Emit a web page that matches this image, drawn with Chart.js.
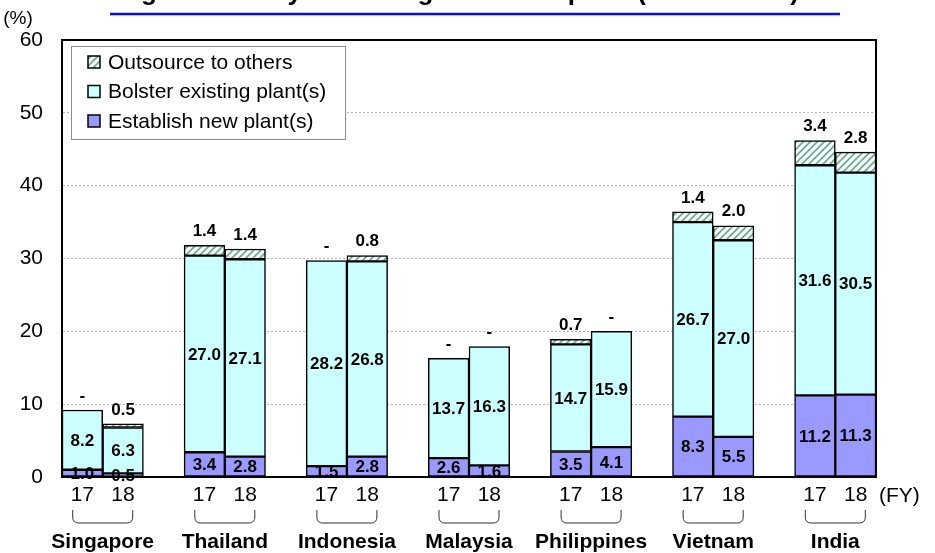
<!DOCTYPE html>
<html>
<head>
<meta charset="utf-8">
<script src="https://cdn.jsdelivr.net/npm/chart.js@4/dist/chart.umd.min.js"></script>
<style>
  html, body { margin: 0; padding: 0; background: #fff; }
</style>
</head>
<body>
<canvas id="plantChart" width="935" height="553"></canvas>
<script>
// countries, each with FY17 / FY18 bars
const countries = ['Singapore', 'Thailand', 'Indonesia', 'Malaysia', 'Philippines', 'Vietnam', 'India'];
const fiscalYears = ['17', '18'];
const seriesNames = ['Establish new plant(s)', 'Bolster existing plant(s)', 'Outsource to others'];

// values in pairs: [country FY17, country FY18, ...]
const establishNew = [1.0, 0.5, 3.4, 2.8, 1.5, 2.8, 2.6, 1.6, 3.5, 4.1, 8.3, 5.5, 11.2, 11.3];
const bolsterExisting = [8.2, 6.3, 27.0, 27.1, 28.2, 26.8, 13.7, 16.3, 14.7, 15.9, 26.7, 27.0, 31.6, 30.5];
const outsourceOthers = [0, 0.5, 1.4, 1.4, 0, 0.8, 0, 0, 0.7, 0, 1.4, 2.0, 3.4, 2.8];

const yTickMin = 0;
const yTickMax = 60;
const yTickStep = 10;

const fontFamily = "'Liberation Sans', Arial, Helvetica, sans-serif";
Chart.defaults.font.family = fontFamily;
Chart.defaults.color = '#000';

// put an empty slot between countries, like the original spreadsheet chart
function withGaps(values) {
    const out = [];
    countries.forEach((c, i) => {
        out.push(values[2 * i], values[2 * i + 1]);
        if (i < countries.length - 1) out.push(null);
    });
    return out;
}

const labels = [];
countries.forEach((c, i) => {
    labels.push(...fiscalYears);
    if (i < countries.length - 1) labels.push('');
});

// green diagonal hatch for "Outsource to others"
function makeHatch() {
    const c = document.createElement('canvas');
    c.width = 7;
    c.height = 7;
    const g = c.getContext('2d');
    g.fillStyle = '#fff';
    g.fillRect(0, 0, 7, 7);
    g.strokeStyle = '#5fae8c';
    g.lineWidth = 1.6;
    g.beginPath();
    g.moveTo(-1, 8); g.lineTo(8, -1);
    g.moveTo(-1, 1); g.lineTo(1, -1);
    g.moveTo(6, 8); g.lineTo(8, 6);
    g.stroke();
    return g.createPattern(c, 'repeat');
}
const hatch = makeHatch();
const fills = ['#9999ff', '#ccffff', hatch];

// value labels, frame and legend box
const chartExtras = {
    id: 'chartExtras',
    afterDatasetsDraw(chart) {
        const { ctx, chartArea: a } = chart;
        ctx.save();
        ctx.strokeStyle = '#000';
        ctx.lineWidth = 2;
        ctx.strokeRect(a.left, a.top, a.right - a.left, a.bottom - a.top);

        ctx.font = 'bold 17px ' + fontFamily;
        ctx.fillStyle = '#000';
        ctx.textAlign = 'center';
        ctx.textBaseline = 'middle';
        chart.data.datasets.forEach((ds, di) => {
            const meta = chart.getDatasetMeta(di);
            meta.data.forEach((bar, i) => {
                const v = ds.data[i];
                if (v === null || v === undefined) return;
                if (di === 2) {
                    ctx.fillText(v === 0 ? '-' : v.toFixed(1), bar.x, bar.y - 14);
                } else {
                    ctx.fillText(v.toFixed(1), bar.x, (bar.y + bar.base) / 2 + 1);
                }
            });
        });

        // legend
        const lx = a.left + 9, ly = a.top + 6, lw = 274, lh = 93;
        ctx.fillStyle = '#fff';
        ctx.fillRect(lx, ly, lw, lh);
        ctx.strokeStyle = '#8c8c8c';
        ctx.lineWidth = 1;
        ctx.strokeRect(lx + 0.5, ly + 0.5, lw, lh);
        ctx.font = '21px ' + fontFamily;
        ctx.textAlign = 'left';
        const order = [2, 1, 0];
        order.forEach((di, row) => {
            const cy = ly + 16 + row * 29.5;
            ctx.fillStyle = fills[di];
            ctx.fillRect(lx + 17, cy - 6, 12, 12);
            ctx.strokeStyle = '#000';
            ctx.lineWidth = 1.5;
            ctx.strokeRect(lx + 17, cy - 6, 12, 12);
            ctx.fillStyle = '#000';
            ctx.fillText(chart.data.datasets[di].label, lx + 37, cy + 1);
        });
        ctx.restore();
    },
    afterDraw(chart) {
        const { ctx, chartArea: a, scales: { x } } = chart;
        ctx.save();
        ctx.fillStyle = '#000';
        ctx.strokeStyle = '#333';
        ctx.lineWidth = 1;

        // braces and country names
        countries.forEach((name, i) => {
            const cx = (x.getPixelForValue(3 * i) + x.getPixelForValue(3 * i + 1)) / 2;
            const l = cx - 30, r = cx + 30, t = a.bottom + 33, b = a.bottom + 46, rad = 6;
            ctx.beginPath();
            ctx.moveTo(l, t);
            ctx.lineTo(l, b - rad);
            ctx.quadraticCurveTo(l, b, l + rad, b);
            ctx.lineTo(r - rad, b);
            ctx.quadraticCurveTo(r, b, r, b - rad);
            ctx.lineTo(r, t);
            ctx.stroke();

            ctx.font = 'bold 21px ' + fontFamily;
            ctx.textAlign = 'center';
            ctx.textBaseline = 'middle';
            ctx.fillText(name, cx, a.bottom + 65);
        });

        ctx.font = '21px ' + fontFamily;
        ctx.textAlign = 'left';
        ctx.textBaseline = 'middle';
        ctx.fillText('(FY)', a.right + 3, a.bottom + 19);
        ctx.textAlign = 'center';
        ctx.font = '19px ' + fontFamily;
        ctx.fillText('(%)', 18, 19);

        // title, cut off at the top edge like the source
        ctx.font = 'bold 26px ' + fontFamily;
        ctx.textAlign = 'left';
        ctx.textBaseline = 'alphabetic';
        ctx.fillText('Figure 14: Ways to enlarge the local plant (multi-select)', 118, 0);
        ctx.strokeStyle = '#0a0ae6';
        ctx.lineWidth = 2.5;
        ctx.beginPath();
        ctx.moveTo(110, 14);
        ctx.lineTo(840, 14);
        ctx.stroke();
        ctx.restore();
    }
};

function noScalePadding(scale) {
    scale.paddingTop = 0;
    scale.paddingBottom = 0;
    scale.paddingLeft = 0;
    scale.paddingRight = 0;
}

const barStyle = {
    borderColor: '#000',
    borderWidth: 1.5,
    borderSkipped: false,
    barPercentage: 1,
    categoryPercentage: 1
};

new Chart(document.getElementById('plantChart'), {
    type: 'bar',
    data: {
        labels: labels,
        datasets: [
            { label: seriesNames[0], data: withGaps(establishNew), backgroundColor: fills[0], ...barStyle },
            { label: seriesNames[1], data: withGaps(bolsterExisting), backgroundColor: fills[1], ...barStyle },
            { label: seriesNames[2], data: withGaps(outsourceOthers), backgroundColor: fills[2], ...barStyle }
        ]
    },
    options: {
        responsive: false,
        animation: false,
        layout: { padding: { top: 40, right: 59, left: 0, bottom: 0 } },
        plugins: {
            legend: { display: false },
            tooltip: { enabled: false },
            title: { display: false }
        },
        scales: {
            x: {
                stacked: true,
                grid: { display: false, drawTicks: false },
                border: { display: true, color: '#000', width: 2 },
                ticks: { font: { size: 21 }, padding: 6, autoSkip: false, maxRotation: 0 },
                afterFit(scale) {
                    scale.height = 76;
                    noScalePadding(scale);
                }
            },
            y: {
                stacked: true,
                min: yTickMin,
                max: yTickMax,
                grid: { color: '#b4b4b4', lineWidth: 1, drawTicks: false },
                border: { display: true, color: '#000', width: 2, dash: [2, 2] },
                ticks: { stepSize: yTickStep, font: { size: 21 }, padding: 19 },
                afterFit(scale) {
                    scale.width = 62;
                    noScalePadding(scale);
                }
            }
        }
    },
    plugins: [chartExtras]
});
</script>
</body>
</html>
